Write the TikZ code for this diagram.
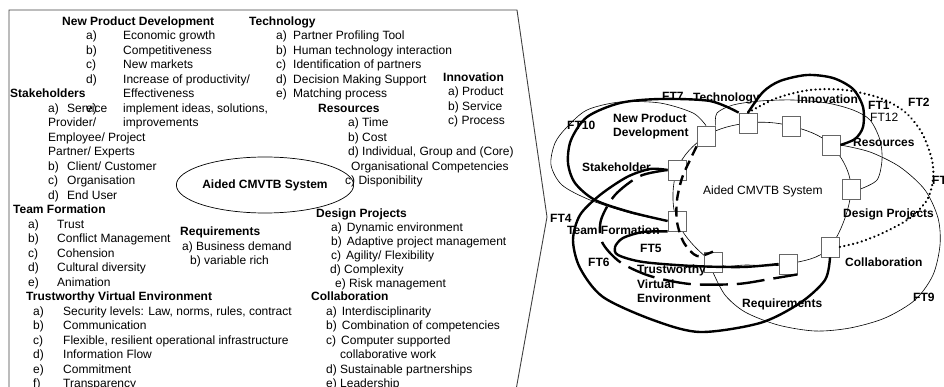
\documentclass[tikz,border=0pt]{standalone}
\usepackage{fontspec}
\setmainfont{Liberation Sans}
\usetikzlibrary{backgrounds,shapes.geometric}
\begin{document}
\begin{tikzpicture}[x=1pt,y=-1pt,
  tx/.style={anchor=west,inner sep=0pt,text height=8.6pt,text depth=0pt,font=\fontsize{12}{14}\selectfont},
  hd/.style={tx,font=\fontsize{12}{14}\selectfont\bfseries},
  fbox/.style={draw=black!60,fill=white,line width=0.8pt,minimum width=18pt,minimum height=20pt,inner sep=0pt},
  thinl/.style={line width=0.6pt},
  thickl/.style={line width=2.4pt},
  panel/.style={line width=0.9pt,draw=black!75}]
\useasboundingbox (0,0) rectangle (944,387);
% ---------------- left panel ----------------
\coordinate (pBL) at (9,390);
\coordinate (pTL) at (9,10);
\coordinate (pTR) at (517,10);
\coordinate (pTip) at (547,217);
\coordinate (pBR) at (516,390);
\draw[panel] (pBL) -- (pTL) -- (pTR) -- (pTip) -- (pBR);
% New Product Development
\node[hd] (npd) at (62,21) {New Product Development};
\node[tx] (npdA) at (86,35.5) {a)}; \node[tx] (npdAt) at (123,35.5) {Economic growth};
\node[tx] (npdB) at (86,50) {b)}; \node[tx] (npdBt) at (123,50) {Competitiveness};
\node[tx] (npdC) at (86,64.5) {c)}; \node[tx] (npdCt) at (123,64.5) {New markets};
\node[tx] (npdD) at (86,79) {d)}; \node[tx] (npdDt) at (123,79) {Increase of productivity/};
\node[tx] (npdD2) at (123,93.5) {Effectiveness};
\node[tx] (npdE) at (86,108) {e)}; \node[tx] (npdEt) at (123,108) {implement ideas, solutions,};
\node[tx] (npdE2) at (123,122.5) {improvements};
% Technology
\node[hd] (tec) at (249,21) {Technology};
\node[tx] (tecA) at (276,35.5) {a)}; \node[tx] (tecAt) at (293,35.5) {Partner Profiling Tool};
\node[tx] (tecB) at (276,50) {b)}; \node[tx] (tecBt) at (293,50) {Human technology interaction};
\node[tx] (tecC) at (276,64.5) {c)}; \node[tx] (tecCt) at (293,64.5) {Identification of partners};
\node[tx] (tecD) at (276,79) {d)}; \node[tx] (tecDt) at (293,79) {Decision Making Support};
\node[tx] (tecE) at (276,93.5) {e)}; \node[tx] (tecEt) at (293,93.5) {Matching process};
% Innovation
\node[hd] (inn) at (443,77) {Innovation};
\node[tx] (innA) at (448,91.5) {a) Product};
\node[tx] (innB) at (448,106) {b) Service};
\node[tx] (innC) at (448,120.5) {c) Process};
% Resources
\node[hd] (res) at (318,108) {Resources};
\node[tx] (resA) at (348,122.5) {a) Time};
\node[tx] (resB) at (348,137) {b) Cost};
\node[tx] (resD) at (348,151.5) {d) Individual, Group and (Core)};
\node[tx] (resD2) at (351,166) {Organisational Competencies};
\node[tx] (resC) at (345,180.5) {c) Disponibility};
% Stakeholders
\node[hd] (stk) at (10,93.5) {Stakeholders};
\node[tx] (stkA) at (48,108) {a)}; \node[tx] (stkAt) at (67,108) {Service};
\node[tx] (stkA2) at (48,122.5) {Provider/};
\node[tx] (stkA3) at (48,137) {Employee/ Project};
\node[tx] (stkA4) at (48,151.5) {Partner/ Experts};
\node[tx] (stkB) at (48,166) {b)}; \node[tx] (stkBt) at (67,166) {Client/ Customer};
\node[tx] (stkC) at (48,180.5) {c)}; \node[tx] (stkCt) at (67,180.5) {Organisation};
\node[tx] (stkD) at (48,195) {d)}; \node[tx] (stkDt) at (67,195) {End User};
% Team Formation
\node[hd] (tf) at (13,209.5) {Team Formation};
\node[tx] (tfA) at (28,224) {a)}; \node[tx] (tfAt) at (57,224) {Trust};
\node[tx] (tfB) at (28,238.5) {b)}; \node[tx] (tfBt) at (57,238.5) {Conflict Management};
\node[tx] (tfC) at (28,253) {c)}; \node[tx] (tfCt) at (57,253) {Cohension};
\node[tx] (tfD) at (28,267.5) {d)}; \node[tx] (tfDt) at (57,267.5) {Cultural diversity};
\node[tx] (tfE) at (28,282) {e)}; \node[tx] (tfEt) at (57,282) {Animation};
% Trustworthy Virtual Environment
\node[hd] (tve) at (26,296.5) {Trustworthy Virtual Environment};
\node[tx] (tveA) at (33,311) {a)}; \node[tx] (tveAt) at (63,311) {Security levels: Law, norms, rules, contract};
\node[tx] (tveB) at (33,325.5) {b)}; \node[tx] (tveBt) at (63,325.5) {Communication};
\node[tx] (tveC) at (33,340) {c)}; \node[tx] (tveCt) at (63,340) {Flexible, resilient operational infrastructure};
\node[tx] (tveD) at (33,354.5) {d)}; \node[tx] (tveDt) at (63,354.5) {Information Flow};
\node[tx] (tveE) at (33,369) {e)}; \node[tx] (tveEt) at (63,369) {Commitment};
\node[tx] (tveF) at (33,383.5) {f)}; \node[tx] (tveFt) at (63,383.5) {Transparency};
% Aided system ellipse
\node[ellipse,draw,line width=0.7pt,minimum width=154pt,minimum height=56pt,inner sep=0pt,
      font=\fontsize{12}{14}\selectfont\bfseries] (aided) at (265,185) {Aided CMVTB System};
% Requirements
\node[hd] (req) at (180,231.25) {Requirements};
\node[tx] (reqA) at (182,245.75) {a) Business demand};
\node[tx] (reqB) at (190,260.25) {b) variable rich};
% Design Projects
\node[hd] (dp) at (316,213) {Design Projects};
\node[tx] (dpA) at (331,227) {a)\hspace{5pt}Dynamic environment};
\node[tx] (dpB) at (331,241) {b)\hspace{5pt}Adaptive project management};
\node[tx] (dpC) at (331,255) {c)\hspace{5pt}Agility/ Flexibility};
\node[tx] (dpD) at (330,269) {d) Complexity};
\node[tx] (dpE) at (335,283) {e) Risk management};
% Collaboration
\node[hd] (col) at (311,296.5) {Collaboration};
\node[tx] (colA) at (326,311) {a)\hspace{5pt}Interdisciplinarity};
\node[tx] (colB) at (326,325.5) {b)\hspace{5pt}Combination of competencies};
\node[tx] (colC) at (326,340) {c)\hspace{5pt}Computer supported};
\node[tx] (colC2) at (340,354.5) {collaborative work};
\node[tx] (colD) at (326,369) {d) Sustainable partnerships};
\node[tx] (colE) at (326,383.5) {e) Leadership};
% ---------------- right panel ----------------
\node[fbox] (bNPD) at (706,136) {};
\node[fbox] (bTech) at (748,123) {};
\node[fbox] (bInno) at (791,126) {};
\node[fbox] (bRes) at (831,145) {};
\node[fbox] (bDP) at (851,189) {};
\node[fbox] (bCol) at (830,247) {};
\node[fbox] (bReq) at (788,264) {};
\node[fbox] (bTVE) at (713,262) {};
\node[fbox] (bTF) at (677,221) {};
\node[fbox] (bSH) at (677,170) {};
\begin{scope}[on background layer]
  % central ring
  \draw[thinl] plot[smooth cycle,tension=0.6] coordinates {(bNPD.center) (bTech.center) (bInno.center) (bRes.center) (bDP.center) (bCol.center) (bReq.center) (748,265) (bTVE.center) (bTF.center) (bSH.center)};
  % NPD / Stakeholder domain
  \draw[thinl] plot[smooth] coordinates {(bTF.west) (630,213) (590,200) (562,185) (551,165) (555,143) (567,127) (587,110) (620,102) (660,103) (693,113) (bNPD.north)};
  % Technology / Innovation / Resources domain
  \draw[thinl] plot[smooth] coordinates {(bNPD.north east) (717,113) (733,105) (760,101) (793,100) (827,103) (853,110) (870,120) (880,140) (882,160) (877,180) (bDP.east)};
  % FT9 domain
  \draw[thinl] plot[smooth] coordinates {(bRes.east) (870,152) (900,167) (925,190) (938,218) (940,245) (933,275) (915,300) (885,318) (850,328) (815,331) (778,325) (745,312) (725,295) (bTVE.south)};
\end{scope}
% thick feature threads
\draw[thickl] plot[smooth] coordinates {(bTech.north west) (710,101) (660,99) (620,103) (587,117) (571,140) (568,163) (575,183) (595,200) (630,212) (bTF.west)};
\draw[thickl] plot[smooth] coordinates {(bTech.north) (763,92) (780,81) (807,75) (833,78) (853,89) (863,107) (863,127) (855,139) (bRes.east)};
\draw[thickl,line cap=round,dash pattern=on 0.1pt off 4.4pt] plot[smooth] coordinates {(bTech.north) (777,98) (810,90) (845,90) (880,98) (905,112) (922,133) (932,160) (933,180) (927,200) (910,218) (885,232) (860,242) (bCol.east)};
\draw[thickl] plot[smooth] coordinates {(bSH.west) (650,169) (627,177) (600,195) (580,215) (573,240) (580,268) (603,297) (653,320) (700,332) (760,323) (800,303) (825,280) (bCol.south)};
\draw[thickl,dash pattern=on 28pt off 9pt] plot[smooth] coordinates {(bSH.west) (640,176) (615,195) (601,220) (602,242) (620,262) (650,276) (690,284) (737,284) (770,279) (bReq.south east)};
\draw[thickl] plot[smooth] coordinates {(bTF.south west) (643,232) (623,238) (615,247) (618,255) (643,262) (693,266) (743,267) (bReq.west)};
\draw[thickl,dash pattern=on 10pt off 6pt] plot[smooth] coordinates {(bNPD.south west) (690,160) (682,178) (677,200) (677,222) (684,243) (697,256) (bTVE.north)};
% labels
\node[hd] (lFT7) at (662,96) {FT7};
\node[hd] (lTech) at (693,97) {Technology};
\node[hd] (lInno) at (797,99) {Innovation};
\node[hd] (lFT1) at (868,105) {FT1};
\node[tx] (lFT12) at (870,117) {FT12};
\node[hd] (lFT2) at (908,102) {FT2};
\node[hd] (lFT10) at (567,125) {FT10};
\node[hd] (lNPD1) at (613,118) {New Product};
\node[hd] (lNPD2) at (613,132) {Development};
\node[hd] (lSH) at (582,167) {Stakeholder};
\node[hd] (lRes) at (853,142) {Resources};
\node[tx] (lAided) at (703,190) {Aided CMVTB System};
\node[hd] (lFT3) at (932,180) {FT};
\node[hd] (lDP) at (843,213) {Design Projects};
\node[hd] (lFT4) at (550,218) {FT4};
\node[hd] (lTF) at (567,230) {Team Formation};
\node[hd] (lFT5) at (640,248) {FT5};
\node[hd] (lFT6) at (588,262) {FT6};
\node[hd] (lCol) at (845,262) {Collaboration};
\node[hd] (lTVE1) at (637,269) {Trustworthy};
\node[hd] (lTVE2) at (637,284) {Virtual};
\node[hd] (lTVE3) at (637,298) {Environment};
\node[hd] (lFT9) at (913,297) {FT9};
\node[hd] (lReq) at (742,303) {Requirements};
\end{tikzpicture}
\end{document}
